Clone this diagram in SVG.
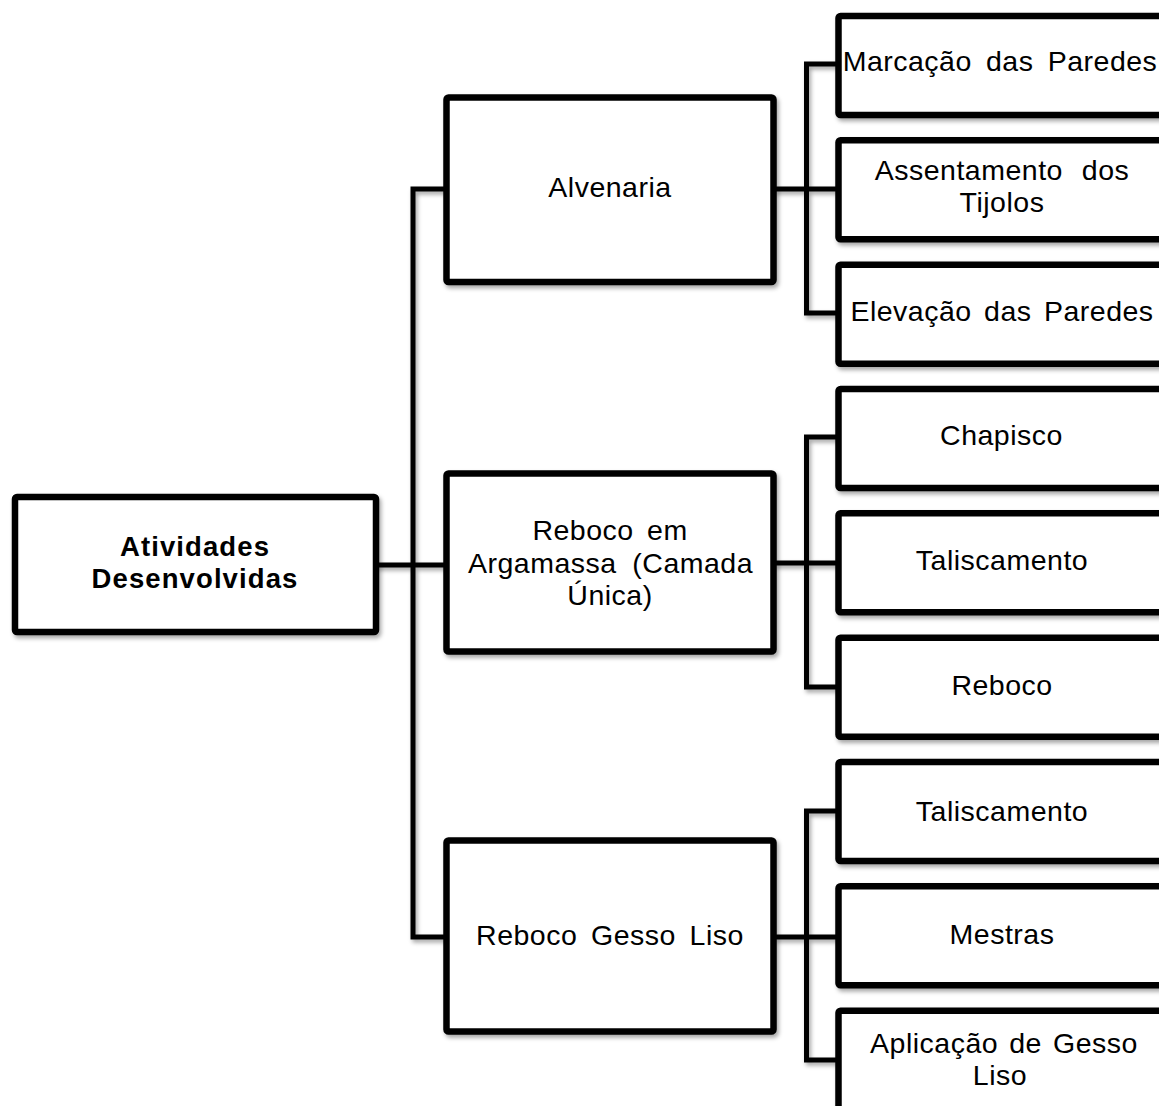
<svg xmlns="http://www.w3.org/2000/svg" width="1159" height="1106" viewBox="0 0 1159 1106">
<defs>
<filter id="sh" x="-5%" y="-5%" width="115%" height="120%">
<feDropShadow dx="2" dy="3" stdDeviation="2" flood-color="#000" flood-opacity="0.35"/>
</filter>
<style>
.box{fill:#fff;stroke:#000;stroke-width:6.5;filter:url(#sh)}
.ln{fill:none;stroke:#000;stroke-width:5;stroke-linejoin:miter}
text{font-family:"Liberation Sans",Arial,sans-serif;font-size:28.5px;fill:#000;text-anchor:middle;letter-spacing:0.5px}
.b{font-weight:bold;font-size:27.5px;letter-spacing:1.1px}
</style>
</defs>
<rect width="1159" height="1106" fill="#fff"/>
<g id="connectors" filter="url(#sh)">
<path class="ln" d="M376 565 H447"/>
<path class="ln" d="M447 189 H413 V937 H447"/>
<path class="ln" d="M774 189 H838"/>
<path class="ln" d="M838 64 H806.5 V313 H838"/>
<path class="ln" d="M774 563 H838"/>
<path class="ln" d="M838 437 H806.5 V687 H838"/>
<path class="ln" d="M774 937 H838"/>
<path class="ln" d="M838 811 H806.5 V1060 H838"/>
</g>
<g id="root">
<rect class="box" x="15" y="497" width="361" height="135" rx="2"/>
<text class="b" x="195" y="556">Atividades</text>
<text class="b" x="195" y="588">Desenvolvidas</text>
</g>
<g id="alvenaria">
<rect class="box" x="446.5" y="97.5" width="327" height="184.5" rx="2"/>
<text x="610" y="197">Alvenaria</text>
</g>
<g id="argamassa">
<rect class="box" x="446.5" y="473.5" width="327" height="178" rx="2"/>
<text x="610" y="540" word-spacing="5">Reboco em</text>
<text x="610.5" y="572.5" word-spacing="7.3">Argamassa (Camada</text>
<text x="610" y="605">Única)</text>
</g>
<g id="gesso">
<rect class="box" x="446.5" y="840.5" width="327" height="191" rx="2"/>
<text x="610" y="945" word-spacing="5.3">Reboco Gesso Liso</text>
</g>
<g id="marcacao">
<rect class="box" x="838.5" y="16" width="330" height="99" rx="2"/>
<text x="1000" y="71" word-spacing="5.8">Marcação das Paredes</text>
</g>
<g id="assentamento">
<rect class="box" x="838.5" y="140.3" width="330" height="99" rx="2"/>
<text x="1002" y="180" word-spacing="10.5">Assentamento dos</text>
<text x="1002" y="212">Tijolos</text>
</g>
<g id="elevacao">
<rect class="box" x="838.5" y="264.7" width="330" height="99" rx="2"/>
<text x="1002" y="321" word-spacing="4">Elevação das Paredes</text>
</g>
<g id="chapisco">
<rect class="box" x="838.5" y="389" width="330" height="99" rx="2"/>
<text x="1001.5" y="445">Chapisco</text>
</g>
<g id="taliscamento1">
<rect class="box" x="838.5" y="513.3" width="330" height="99" rx="2"/>
<text x="1002" y="570">Taliscamento</text>
</g>
<g id="reboco">
<rect class="box" x="838.5" y="637.7" width="330" height="99" rx="2"/>
<text x="1002" y="695">Reboco</text>
</g>
<g id="taliscamento2">
<rect class="box" x="838.5" y="762" width="330" height="99" rx="2"/>
<text x="1002" y="820.5">Taliscamento</text>
</g>
<g id="mestras">
<rect class="box" x="838.5" y="886.3" width="330" height="99" rx="2"/>
<text x="1002" y="944">Mestras</text>
</g>
<g id="aplicacao">
<rect class="box" x="838.5" y="1010.7" width="330" height="99" rx="2"/>
<text x="1004" y="1053" word-spacing="2.7">Aplicação de Gesso</text>
<text x="1000" y="1085">Liso</text>
</g>
</svg>
